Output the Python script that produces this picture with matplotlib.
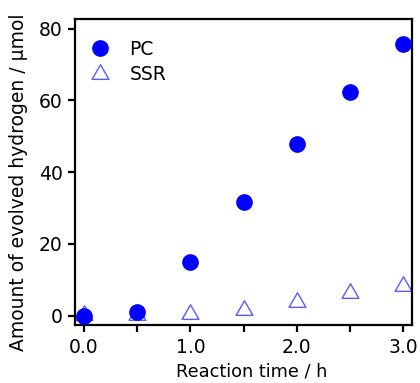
import matplotlib.pyplot as plt
from matplotlib.path import Path

time_h = [0.0, 0.5, 1.0, 1.5, 2.0, 2.5, 3.0]
pc_umol = [0.0, 0.9, 15.0, 31.7, 47.8, 62.3, 75.7]
ssr_umol = [0.3, 0.1, 0.4, 1.6, 3.9, 6.4, 8.3]

plt.rcParams['font.family'] = 'DejaVu Sans'
plt.rcParams['font.size'] = 13.5

fig = plt.figure(figsize=(4.2, 3.83), dpi=100)
ax = fig.add_axes([0.1786, 0.1514, 0.8024, 0.799])

# equilateral triangle, centred on the point
tri = Path([(-1.0, -0.577), (1.0, -0.577), (0.0, 1.155), (-1.0, -0.577)],
           closed=True)

ax.plot(time_h, pc_umol, 'o', color='#0000ff', markersize=11, label='PC', zorder=3)
ax.plot(time_h, ssr_umol, marker=tri, linestyle='none', markerfacecolor='none',
        markeredgecolor='#5a5aff', markeredgewidth=1.0, markersize=14,
        label='SSR', zorder=2)

ax.set_xlim(-0.085, 3.085)
ax.set_ylim(-2.6, 82.7)
ax.set_xticks([0.0, 0.5, 1.0, 1.5, 2.0, 2.5, 3.0])
ax.set_xticklabels(['0.0', '', '1.0', '', '2.0', '', '3.0'])
ax.set_yticks([0, 20, 40, 60, 80])

for s in ax.spines.values():
    s.set_linewidth(1.6)
ax.tick_params(direction='out', length=5, width=1.6, pad=4)

ax.set_xlabel('Reaction time / h', fontsize=12.8)
ax.set_ylabel('Amount of evolved hydrogen / µmol')
ax.xaxis.set_label_coords(0.524, -0.122)
ax.yaxis.set_label_coords(-0.139, 0.466)

ax.legend(loc='upper left', bbox_to_anchor=(-0.031, 1.0), frameon=False,
          handletextpad=0.75, borderaxespad=0.5, borderpad=0.6,
          labelspacing=0.35, handlelength=1.6)

fig.savefig('out.png', dpi=100)
